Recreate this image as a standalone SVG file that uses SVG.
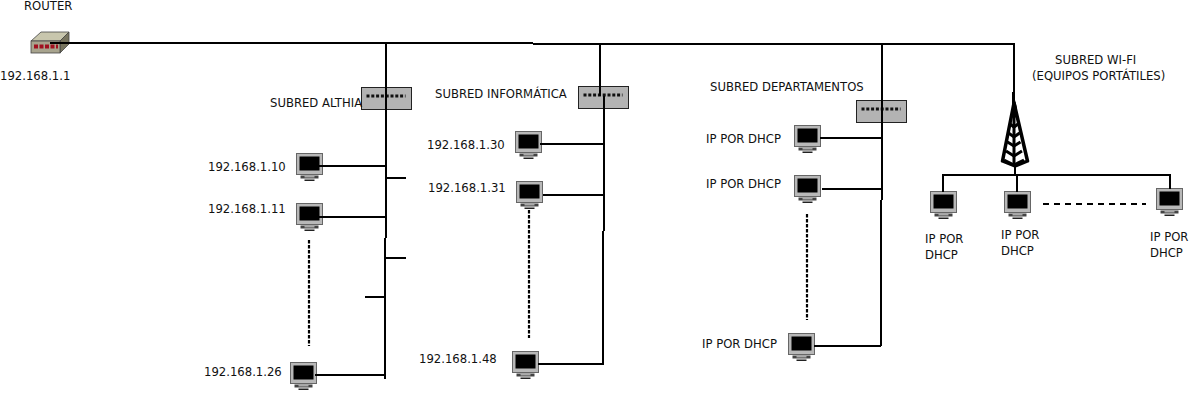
<svg xmlns="http://www.w3.org/2000/svg" width="1194" height="414" viewBox="0 0 1194 414">
<style>
text{font-family:"DejaVu Sans",sans-serif;font-size:11.65px;fill:#111}
.c{fill:none;stroke:#000;stroke-width:2}
.d{fill:none;stroke:#000;stroke-width:2.200;stroke-dasharray:3.500 1.500}
.w{fill:none;stroke:#000;stroke-width:2;stroke-dasharray:6 5}
.sw{fill:#b3b3b3;stroke:#222;stroke-width:1}
.p{fill:none;stroke:#111;stroke-width:3;stroke-dasharray:3 1.800}
</style>
<defs>
<g id="pc">
<rect x="0" y="0" width="26" height="21" fill="#b8b8b8" stroke="#666"/>
<rect x="3" y="3" width="20" height="14" fill="#000"/>
<path d="M4 22h18v3H4z" fill="#444"/>
<path d="M8 22h10v2H8z" fill="#aaa"/>
<path d="M8 26h10v1.500H8z" fill="#222"/>
</g>
<g id="sw">
<rect class="sw" x="0" y="0" width="50" height="22"/>
<path class="p" d="M5 8.500H44"/>
</g>
</defs>
<g id="router">
<path d="M31 41L41 32H69L60 41Z" fill="#c8c6ad" stroke="#444" stroke-width=".8"/>
<path d="M60 41L69 32V44L60 53Z" fill="#77745e" stroke="#444" stroke-width=".8"/>
<rect x="31" y="41" width="29" height="12" fill="#a8a48e" stroke="#444" stroke-width=".8"/>
<path d="M34 46.500H58" stroke="#a01020" stroke-width="4" stroke-dasharray="4 1.500" fill="none"/>
<text x="24" y="10">ROUTER</text>
<text x="0" y="80">192.168.1.1</text>
</g>
<g id="switch-althia"><use href="#sw" x="361.500" y="87.500"/><text x="270" y="107">SUBRED ALTHIA</text></g>
<g id="switch-informatica"><use href="#sw" x="578.500" y="86.500"/><text x="435" y="98">SUBRED INFORMÁTICA</text></g>
<g id="switch-departamentos"><use href="#sw" x="856.500" y="100.500"/><text x="710" y="91">SUBRED DEPARTAMENTOS</text></g>
<g id="pc-10"><use href="#pc" x="296.500" y="153.500"/><text x="208" y="171">192.168.1.10</text></g>
<g id="pc-11"><use href="#pc" x="296.500" y="203.500"/><text x="208" y="213">192.168.1.11</text></g>
<g id="pc-26"><use href="#pc" x="290.500" y="362.500"/><text x="204" y="376">192.168.1.26</text></g>
<g id="pc-30"><use href="#pc" x="515.500" y="131.500"/><text x="427" y="149">192.168.1.30</text></g>
<g id="pc-31"><use href="#pc" x="516.500" y="181.500"/><text x="428" y="192">192.168.1.31</text></g>
<g id="pc-48"><use href="#pc" x="512.500" y="351.500"/><text x="419" y="363">192.168.1.48</text></g>
<g id="pc-d1"><use href="#pc" x="794.500" y="125.500"/><text x="706" y="143">IP POR DHCP</text></g>
<g id="pc-d2"><use href="#pc" x="794.500" y="175.500"/><text x="706" y="188">IP POR DHCP</text></g>
<g id="pc-d3"><use href="#pc" x="788.500" y="333.500"/><text x="702" y="348">IP POR DHCP</text></g>
<g id="pc-w1"><use href="#pc" x="930.500" y="191.500"/><text x="925" y="243">IP POR</text><text x="925" y="259">DHCP</text></g>
<g id="pc-w2"><use href="#pc" x="1004.500" y="191.500"/><text x="1001" y="239">IP POR</text><text x="1001" y="255">DHCP</text></g>
<g id="pc-w3"><use href="#pc" x="1156.500" y="188.500"/><text x="1150" y="241">IP POR</text><text x="1150" y="257">DHCP</text></g>
<g id="antenna">
<path d="M1012 92h3v8l2 8h-5z" fill="#000"/>
<path d="M1014 103L1002.500 161L1015 166L1027.500 161Z" fill="none" stroke="#000" stroke-width="3.500" stroke-linejoin="round"/>
<path d="M1014 105V166" stroke="#000" stroke-width="3"/>
<path d="M1010 116h8M1010 124l4 3 4-3M1008.500 133l5.500 4 5.500-4M1007.500 142l6.500 4 6.500-4M1006 151l8 5 8-5M1004 160l10 5 10-5" stroke="#000" stroke-width="3" fill="none"/>
<text x="1055" y="64">SUBRED WI-FI</text>
<text x="1032" y="80">(EQUIPOS PORTÁTILES)</text>
</g>
<g id="connectors">
<path class="c" d="M50 43H533M533 44H1014V92"/>
<path class="c" d="M386 43V238M385 238V379M386 178H406M385 258H406M365 297H385M318 166H386M318 217H386M315 375H385"/>
<path class="d" d="M309 240V346"/>
<path class="c" d="M600 44V96M604 96V231M603 231V365M540 144H604M543 195H604M538 364H603"/>
<path class="d" d="M529 210V338"/>
<path class="c" d="M882 44V200M881 200V346M820 138H881M822 189H881M814 346H881"/>
<path class="d" d="M807 214V320"/>
<path class="c" d="M943 192V175H1170V189M1017 175V192M1015 165V175"/>
<path class="w" d="M1043 204H1146"/>
</g>
</svg>
